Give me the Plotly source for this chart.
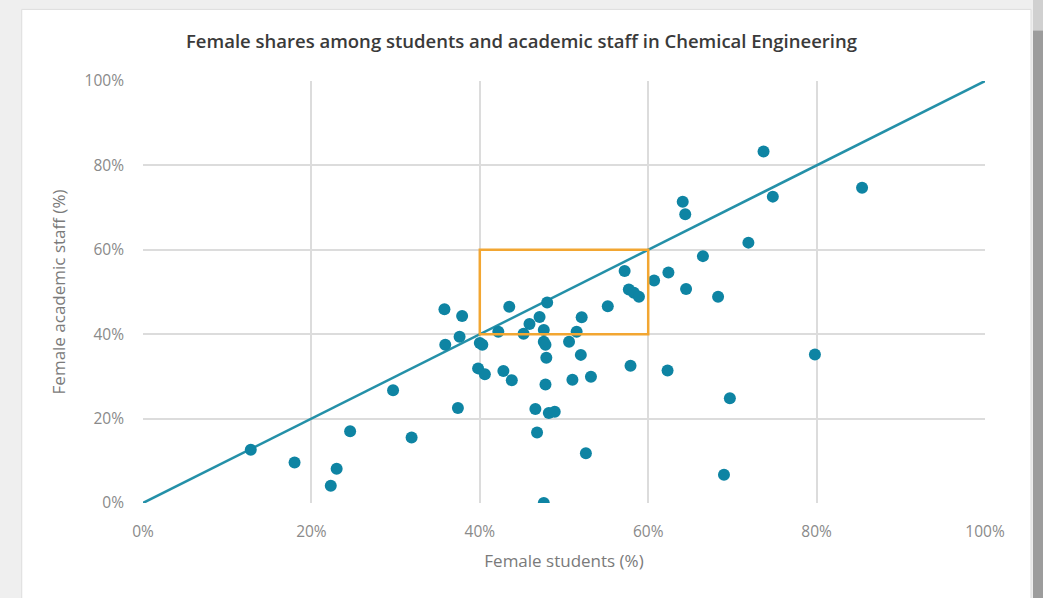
import plotly.graph_objects as go

# Female students (%) vs female academic staff (%)
students = [12.8, 18.0, 23.0, 22.3, 24.6, 29.7, 31.9, 35.8, 37.9, 35.9, 37.6, 37.4,
            40.0, 40.3, 39.8, 40.6, 42.2, 43.5, 42.8, 43.8, 45.2, 45.9, 47.1, 47.6,
            48.0, 47.6, 47.8, 47.9, 47.8, 46.6, 48.2, 48.9, 46.8, 47.6, 50.6, 51.5,
            52.1, 52.0, 51.0, 53.2, 52.6, 55.2, 57.2, 57.7, 58.3, 58.9, 57.9, 60.7,
            62.4, 62.3, 64.5, 64.1, 64.4, 66.5, 68.3, 69.0, 69.7, 71.9, 73.7, 74.8,
            79.8, 85.4]
staff = [12.6, 9.6, 8.1, 4.1, 17.0, 26.7, 15.5, 45.9, 44.3, 37.5, 39.4, 22.5,
         37.9, 37.5, 31.9, 30.5, 40.6, 46.5, 31.3, 29.1, 40.1, 42.4, 44.1, 41.0,
         47.5, 38.2, 37.5, 34.4, 28.1, 22.3, 21.3, 21.6, 16.7, 0.0, 38.2, 40.6,
         44.0, 35.1, 29.2, 29.9, 11.8, 46.6, 55.0, 50.6, 49.8, 48.9, 32.5, 52.7,
         54.6, 31.4, 50.7, 71.4, 68.4, 58.5, 48.9, 6.7, 24.8, 61.7, 83.3, 72.6,
         35.2, 74.7]

parity_line = [0, 100]
box_x = [40, 60]
box_y = [40, 60]
tick_vals = [0, 20, 40, 60, 80, 100]
tick_text = ["0%", "20%", "40%", "60%", "80%", "100%"]

fig = go.Figure()
fig.add_trace(go.Scatter(x=parity_line, y=parity_line, mode="lines",
                         line=dict(color="#2490a8", width=2.5),
                         hoverinfo="skip", showlegend=False))
fig.add_trace(go.Scatter(x=students, y=staff, mode="markers",
                         marker=dict(color="#0e84a3", size=12),
                         showlegend=False))

# highlight box
fig.add_shape(type="rect", xref="x", yref="y", x0=box_x[0], x1=box_x[1],
              y0=box_y[0], y1=box_y[1], line=dict(color="#f2a632", width=2.5),
              fillcolor="rgba(0,0,0,0)", layer="above")

# card background and page shadows
fig.add_shape(type="rect", xref="paper", yref="paper",
              x0=-0.144, x1=1.0546, y0=-0.3, y1=1.1697,
              fillcolor="white", line=dict(color="#dddddd", width=1), layer="below")
fig.add_shape(type="rect", xref="paper", yref="paper",
              x0=1.057, x1=1.08, y0=-0.3, y1=1.12,
              fillcolor="#9c9c9c", line=dict(width=0), layer="below")
fig.add_shape(type="rect", xref="paper", yref="paper",
              x0=1.057, x1=1.08, y0=1.12, y1=1.2,
              fillcolor="#d0d0d0", line=dict(width=0), layer="below")

axis_common = dict(range=[0, 100], tickvals=tick_vals, ticktext=tick_text,
                   showgrid=True, gridcolor="#dcdcdc", gridwidth=1.5,
                   zeroline=False, showline=False,
                   tickfont=dict(family="Open Sans", size=15.5, color="#8a8a8a"),
                   title_font=dict(family="Open Sans", size=17, color="#7a7a7a"))

fig.update_xaxes(**axis_common, title_text="Female students (%)",
                 ticklabelstandoff=17, title_standoff=14)
fig.update_yaxes(**axis_common, title_text="Female academic staff (%)",
                 ticklabelstandoff=18, title_standoff=14)

fig.update_layout(
    width=1043, height=598,
    margin=dict(l=143, r=58, t=81, b=95),
    paper_bgcolor="#efefef", plot_bgcolor="rgba(0,0,0,0)",
    title=dict(text="Female shares among students and academic staff in Chemical Engineering",
               x=0.5, xanchor="center", y=0.93, yanchor="middle",
               font=dict(family="Open Sans", size=18.5, color="#3a3a3a", weight=600)),
    showlegend=False,
)

fig.write_html("out.html", config={"displayModeBar": False},
               post_script="document.body.style.margin='0px';document.body.style.overflow='hidden';")
